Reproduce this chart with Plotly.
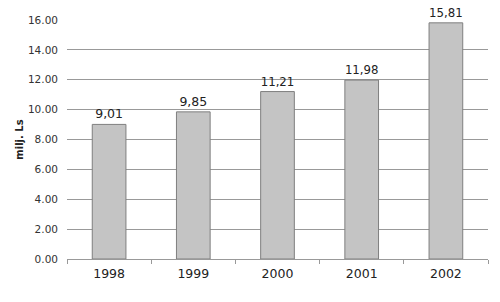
import plotly.graph_objects as go

years = ["1998", "1999", "2000", "2001", "2002"]
values = [9.01, 9.85, 11.21, 11.98, 15.81]
value_labels = ["9,01", "9,85", "11,21", "11,98", "15,81"]
y_ticks = [0, 2, 4, 6, 8, 10, 12, 14, 16]
y_tick_labels = ["0.00", "2.00", "4.00", "6.00", "8.00", "10.00", "12.00", "14.00", "16.00"]

fig = go.Figure(go.Bar(
    x=years, y=values, text=value_labels, textposition="outside",
    textfont=dict(size=12.5, color="#222"),
    marker=dict(color="#c4c4c4", line=dict(color="#7f7f7f", width=1)),
    width=0.4, cliponaxis=False,
))

fig.update_layout(
    width=500, height=302,
    margin=dict(l=67, r=12, t=20, b=43),
    paper_bgcolor="white", plot_bgcolor="white",
    font=dict(family="DejaVu Sans", size=10, color="#333"),
    showlegend=False,
    bargap=0.6,
)
fig.update_xaxes(
    type="category", showline=True, linecolor="#999", linewidth=1,
    ticks="outside", tickson="boundaries", ticklen=4, tickcolor="#999",
    tickfont=dict(size=12.5, color="#222"), showgrid=False, ticklabelstandoff=3,
)
fig.update_yaxes(
    range=[0, 16], tickvals=y_ticks, ticktext=y_tick_labels,
    showgrid=True, gridcolor="#999", gridwidth=1, zeroline=False,
    tickfont=dict(size=10.5, color="#333"), ticks="", ticklabelstandoff=8,
    title=dict(text="<b>milj. Ls</b>", font=dict(size=10, color="#222"), standoff=2),
)

fig.write_html("out.html")
